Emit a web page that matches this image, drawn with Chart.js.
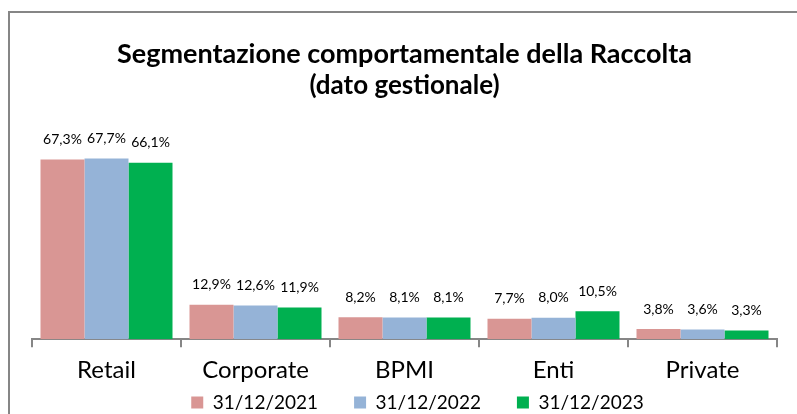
<!DOCTYPE html>
<html>
<head>
<meta charset="utf-8">
<script src="https://cdn.jsdelivr.net/npm/chart.js@4.4.1/dist/chart.umd.min.js"></script>
<style>
  html, body { margin: 0; padding: 0; background: #fff; overflow: hidden; width: 797px; height: 414px; }
  #frame { position: absolute; left: 8px; top: 11px; border: 2px solid #868686; width: 795px; height: 446px; }
  canvas { display: block; }
</style>
</head>
<body>
<div id="frame"><canvas id="chart" width="795" height="446"></canvas></div>
<script>
// dati
const categorie = ['Retail', 'Corporate', 'BPMI', 'Enti', 'Private'];
const serie2021 = [67.3, 12.9, 8.2, 7.7, 3.8];
const serie2022 = [67.7, 12.6, 8.1, 8.0, 3.6];
const serie2023 = [66.1, 11.9, 8.1, 10.5, 3.3];
const etichetteSerie = ['31/12/2021', '31/12/2022', '31/12/2023'];
const colori = ['#D99694', '#95B3D7', '#00B050'];

const FONT = 'Lato, "Open Sans", sans-serif';

// etichette dei valori sopra le barre
const etichetteValori = {
    id: 'etichetteValori',
    afterDatasetsDraw(chart) {
        const ctx = chart.ctx;
        ctx.save();
        ctx.font = '14px ' + FONT;
        ctx.fillStyle = '#000';
        ctx.textAlign = 'center';
        ctx.textBaseline = 'middle';
        chart.data.datasets.forEach((ds, i) => {
            const meta = chart.getDatasetMeta(i);
            meta.data.forEach((bar, j) => {
                const testo = ds.data[j].toFixed(1).replace('.', ',') + '%';
                ctx.fillText(testo, bar.x, bar.y - 20);
            });
        });
        ctx.restore();
    }
};

// la legenda ha padding largo tra le voci: la riporto sotto le etichette
const spostaLegenda = {
    id: 'spostaLegenda',
    afterLayout(chart) {
        const l = chart.legend;
        l.top -= 37; l.bottom -= 37;
        l.left += 13; l.right += 13;
    }
};

const ctx = document.getElementById('chart').getContext('2d');
const grafico = new Chart(ctx, {
    type: 'bar',
    data: {
        labels: categorie,
        datasets: [
            { label: etichetteSerie[0], data: serie2021, backgroundColor: colori[0] },
            { label: etichetteSerie[1], data: serie2022, backgroundColor: colori[1] },
            { label: etichetteSerie[2], data: serie2023, backgroundColor: colori[2] }
        ]
    },
    options: {
        responsive: false,
        animation: false,
        layout: { padding: { left: 22, right: 28, top: 0, bottom: 0 } },
        datasets: { bar: { categoryPercentage: 0.886, barPercentage: 1.0 } },
        scales: {
            x: {
                grid: { offset: true, drawOnChartArea: false, tickLength: 8, color: '#868686', lineWidth: 2 },
                border: { color: '#868686', width: 2 },
                ticks: { font: { family: FONT, size: 24 }, color: '#000', padding: 9 }
            },
            y: { display: false, min: 0, max: 80 }
        },
        plugins: {
            title: {
                display: true,
                text: 'Segmentazione comportamentale della Raccolta',
                font: { family: FONT, size: 27, weight: 'bold' },
                color: '#000',
                padding: { top: 25, bottom: 0 }
            },
            subtitle: {
                display: true,
                text: '(dato gestionale)',
                font: { family: FONT, size: 26, weight: 'bold' },
                color: '#000',
                padding: { top: 0, bottom: 24 }
            },
            legend: {
                position: 'bottom',
                labels: { font: { family: FONT, size: 19 }, color: '#000', boxWidth: 12, boxHeight: 12, padding: 36 }
            },
            tooltip: { enabled: false }
        }
    },
    plugins: [etichetteValori, spostaLegenda]
});
</script>
</body>
</html>
